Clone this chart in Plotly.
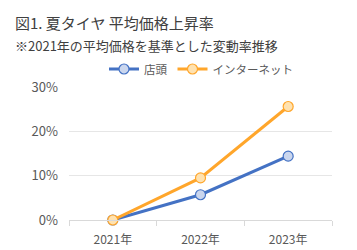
import plotly.graph_objects as go

categories = ["2021年", "2022年", "2023年"]
store = [0.0, 0.057, 0.144]
internet = [0.0, 0.095, 0.256]
series_names = ["店頭", "インターネット"]
tick_vals = [0, 0.1, 0.2, 0.3]
tick_text = ["0%", "10%", "20%", "30%"]

FONT = "Noto Sans CJK JP"
L, R, T, B = 69, 25, 87, 30
W, H = 357, 250
PW, PH = W - L - R, H - T - B


def px2paper(x, y):
    return (x - L) / PW, (H - B - y) / PH


fig = go.Figure()
fig.add_trace(go.Scatter(
    x=categories, y=store, name=series_names[0], mode="lines+markers",
    line=dict(color="#4472C4", width=3),
    marker=dict(size=10, color="#CAD6EE", line=dict(color="#4472C4", width=1.2)),
    cliponaxis=False))
fig.add_trace(go.Scatter(
    x=categories, y=internet, name=series_names[1], mode="lines+markers",
    line=dict(color="#FFA62B", width=3),
    marker=dict(size=10, color="#FFE2B0", line=dict(color="#FFA62B", width=1.2)),
    cliponaxis=False))

tx, ty = px2paper(13, 22)
sx, sy = px2paper(13, 46)
lx, ly = px2paper(104, 69)
fig.update_layout(
    width=W, height=H,
    margin=dict(l=L, r=R, t=T, b=B, autoexpand=False),
    paper_bgcolor="white", plot_bgcolor="white",
    font=dict(family=FONT, color="#595959", size=12),
    showlegend=True,
    legend=dict(orientation="h", x=lx, xanchor="left",
                y=ly, yanchor="middle",
                font=dict(size=11.5, color="#595959"),
                itemwidth=30, tracegroupgap=0, bgcolor="rgba(0,0,0,0)"),
    annotations=[
        dict(text="図1. 夏タイヤ 平均価格上昇率", x=tx, y=ty, xref="paper", yref="paper",
             showarrow=False, xanchor="left", yanchor="middle",
             font=dict(size=15, color="#404040")),
        dict(text="※2021年の平均価格を基準とした変動率推移", x=sx, y=sy, xref="paper", yref="paper",
             showarrow=False, xanchor="left", yanchor="middle",
             font=dict(size=13, color="#404040")),
    ],
    xaxis=dict(type="category", range=[-0.5, 2.5], showgrid=False,
               ticks="outside", tickson="boundaries", ticklen=5, tickcolor="#D9D9D9",
               showline=True, linecolor="#D9D9D9", linewidth=1,
               ticklabelstandoff=9, automargin=False,
               tickfont=dict(size=12, color="#595959")),
    yaxis=dict(range=[0, 0.30], tickvals=tick_vals, ticktext=tick_text,
               showgrid=True, gridcolor="#E6E6E6", zeroline=False,
               showline=False, ticks="", ticklabelstandoff=10, automargin=False,
               tickfont=dict(size=13, color="#595959")),
)
fig.write_html("out.html")
